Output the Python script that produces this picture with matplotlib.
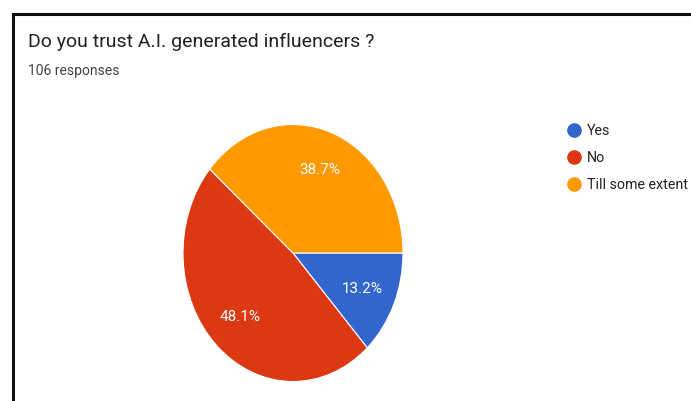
import matplotlib
matplotlib.use('Agg')
import matplotlib.pyplot as plt
from matplotlib.lines import Line2D

plt.rcParams['font.family'] = ['Roboto', 'DejaVu Sans']

# survey answers
labels = ['Yes', 'No', 'Till some extent']
counts = [14, 51, 41]
colors = ['#3366cc', '#dc3912', '#ff9900']
title = 'Do you trust A.I. generated influencers ?'
subtitle = '106 responses'

fig = plt.figure(figsize=(6.91, 4.01), dpi=100)
fig.patch.set_facecolor('white')

# frame lines (left and top)
fig.add_artist(Line2D([13 / 691, 13 / 691], [0, 1 - 13.5 / 401],
                      color='#111111', linewidth=2.2, solid_capstyle='projecting'))
fig.add_artist(Line2D([13 / 691, 1], [1 - 13.5 / 401, 1 - 13.5 / 401],
                      color='#111111', linewidth=2.2, solid_capstyle='projecting'))

fig.text(28 / 691, 1 - 42 / 401, title, fontsize=14, color='#212121',
         ha='left', va='center')
fig.text(28 / 691, 1 - 71 / 401, subtitle, fontsize=10, color='#444444',
         ha='left', va='center')

# pie
ax = fig.add_axes([183 / 691, 1 - 381.5 / 401, 220 / 691, 257 / 401])
wedges, _, autotexts = ax.pie(
    counts, colors=colors, startangle=0, counterclock=False,
    autopct='%1.1f%%', pctdistance=0.69,
    wedgeprops=dict(edgecolor='white', linewidth=0.8),
    textprops=dict(color='white', fontsize=11),
)
ax.set_aspect('auto')
ax.set_xlim(-1, 1)
ax.set_ylim(-1, 1)
ax.axis('off')

handles = [Line2D([], [], linestyle='none', marker='o', markersize=9.5,
                  markerfacecolor=c, markeredgecolor=c) for c in colors]
fig.legend(handles, labels, loc='upper left',
           bbox_to_anchor=(568 / 691, 1 - 124 / 401), frameon=False,
           fontsize=10.3, labelcolor='#222222', handlelength=0.9,
           handletextpad=0.4, labelspacing=0.92, borderpad=0, borderaxespad=0)

fig.savefig('out.png', dpi=100)
